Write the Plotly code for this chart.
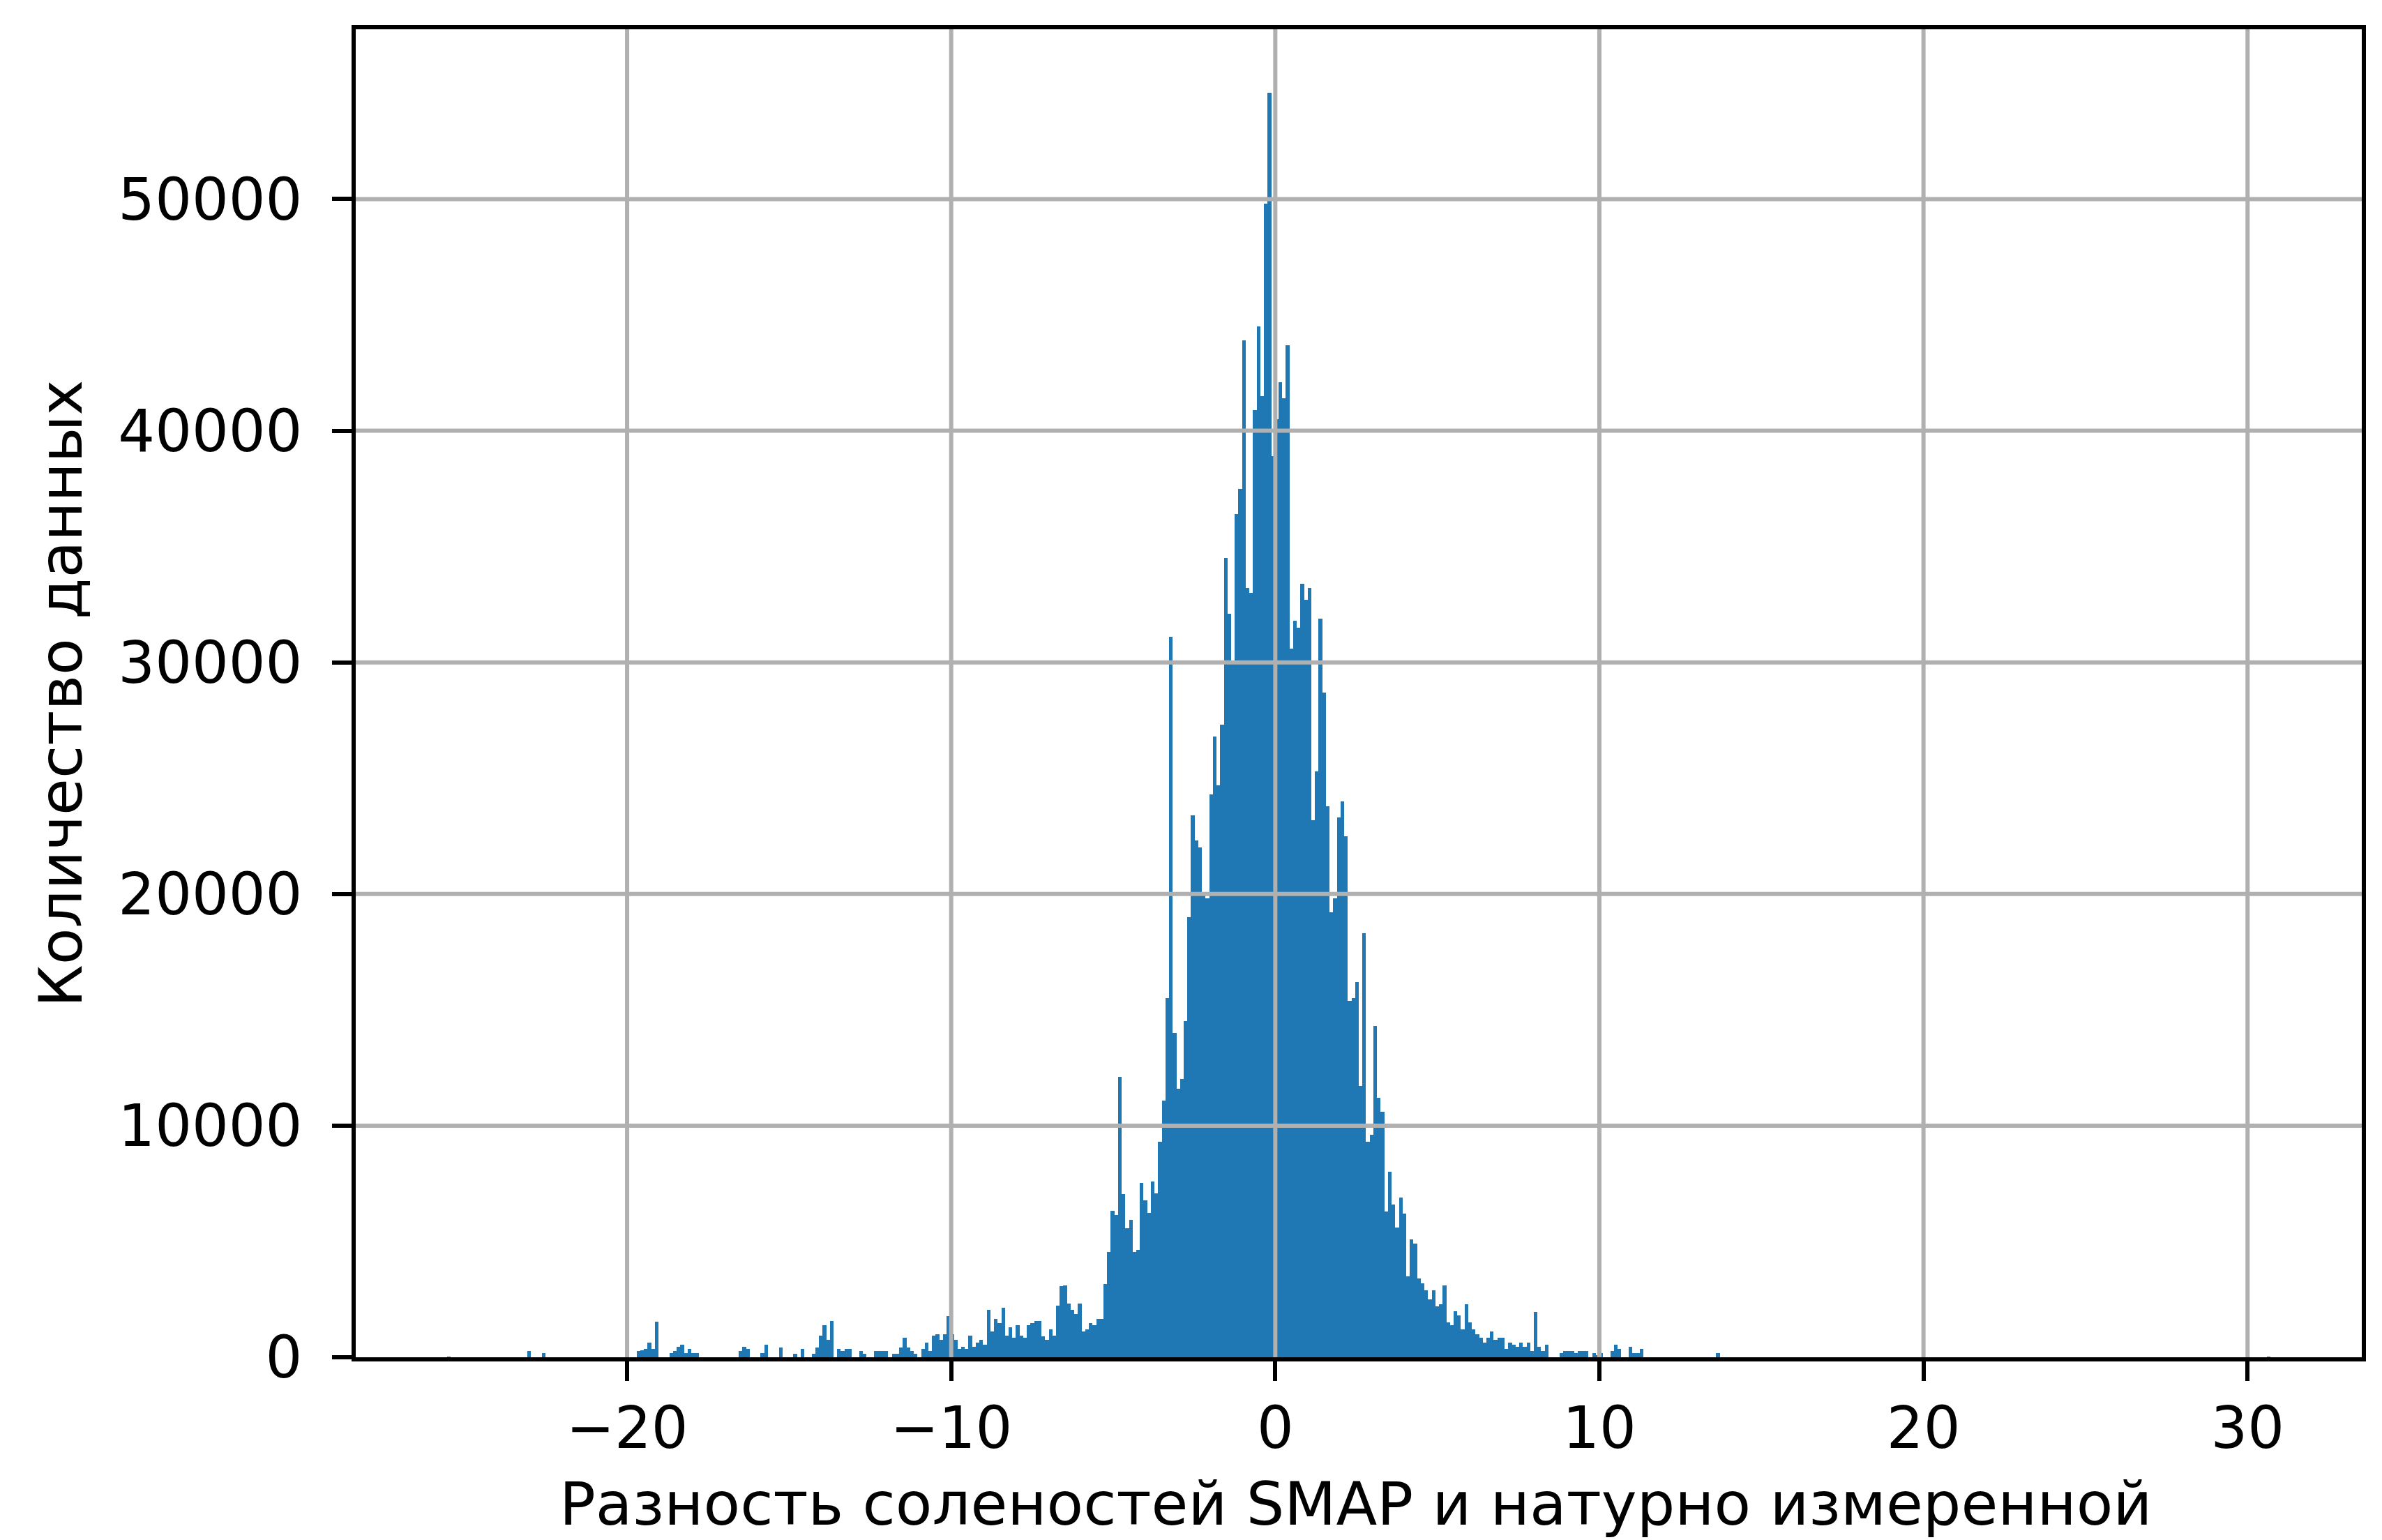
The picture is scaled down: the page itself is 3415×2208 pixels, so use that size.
import plotly.graph_objects as go

# ---------------- data ----------------
bin_start = -25.56          # left edge of first histogram bin
bin_width = 0.11254         # histogram bin width (500 bins)

counts = (
    [1] + [0] * 21                                   # bins 0-21
    + [260, 0, 0, 0, 170]                            # 22-26
    + [0] * 25                                       # 27-51
    + [260, 300, 350, 620, 350, 1550]                # 52-57
    + [0] * 3                                        # 58-60
    + [170, 260, 440, 530, 170, 350, 170, 170]       # 61-68
    + [0] * 11                                       # 69-79
    + [260, 440, 350]                                # 80-82
    + [0] * 3                                        # 83-85
    + [170, 530]                                     # 86-87
    + [0] * 3                                        # 88-90
    + [430] + [0] * 3 + [160] + [0] + [350] + [0, 0] # 91-99
    + [160, 430, 920, 1380, 740, 1560]               # 100-105
    + [0] + [350, 260, 350, 350] + [0, 0]            # 106-112
    + [260, 160] + [0, 0] + [260, 260, 260, 260]     # 113-120
    + [0] + [160, 160, 430, 830, 430, 260, 160] + [0]  # 121-129
    + [350, 620, 260, 920, 1000, 740, 1000, 1770, 1000, 740,          # 130-139
       350, 440, 350, 920, 440, 620, 740, 530, 2040, 1110,           # 140-149
       1650, 1470, 2130, 920, 1280, 830, 1380, 920, 830, 1380,       # 150-159
       1470, 1560, 1560, 910, 750, 1190, 920, 2220, 3060, 3100,      # 160-169
       2310, 2040, 1870, 2310, 1110, 1190, 1470, 1390, 1660, 1660,   # 170-179
       3150, 4540, 6310, 6140, 12100, 7060, 5570, 5940, 4540, 4630,  # 180-189
       7520, 6760, 6220, 7600, 7070, 9300, 11070, 15500, 31100, 14000,      # 190-199
       11600, 12000, 14500, 19000, 23400, 22300, 22000, 20000, 19800, 24300, # 200-209
       26800, 24700, 27300, 34500, 32100, 30000, 36400, 37500, 43900, 33200, # 210-219
       33000, 40900, 44500, 41500, 49800, 54600, 38900, 40500, 42100, 41400, # 220-229
       43700, 30600, 31800, 31500, 33400, 32700, 33200, 23200, 25300, 31900, # 230-239
       28700, 23800, 19200, 19800, 23300, 24000, 22500, 15400, 15500, 16200, # 240-249
       11700, 18300, 9300, 9600, 14300, 11200, 10600, 6300, 8000, 6600,      # 250-259
       5600, 6900, 6200, 3500, 5100, 4900, 3400, 3200, 2900, 2500,           # 260-269
       2900, 2200, 2300, 3100, 1500, 1400, 2000, 1800, 1200, 2300,           # 270-279
       1500, 1200, 1000, 830, 620, 830, 1100, 740, 830, 830,                 # 280-289
       350, 620, 530, 440, 620, 440, 620, 260, 1950, 440,                    # 290-299
       260, 530]                                                             # 300-301
    + [0] * 3                                        # 302-304
    + [170, 260, 260, 260, 170, 260, 260, 260]       # 305-312
    + [0] + [170, 100, 170] + [0, 0]                 # 313-318
    + [260, 530, 350] + [0, 0]                       # 319-323
    + [440, 170, 170, 350]                           # 324-327
    + [0] * 20 + [170]                               # 328-348
    + [0] * 150 + [1]                                # 349-499
)
assert len(counts) == 500, len(counts)

x_ticks = [-20, -10, 0, 10, 20, 30]
x_tick_labels = ["\u221220", "\u221210", "0", "10", "20", "30"]
y_ticks = [0, 10000, 20000, 30000, 40000, 50000]
y_tick_labels = ["0", "10000", "20000", "30000", "40000", "50000"]
x_title = "Разность соленостей SMAP и натурно измеренной"
y_title = "Количество данных"

# ---------------- figure ----------------
n = len(counts)
centers = [bin_start + (i + 0.5) * bin_width for i in range(n)]
data_min = bin_start
data_max = bin_start + n * bin_width
span = data_max - data_min
x_range = [data_min - 0.05 * span, data_max + 0.05 * span]
y_range = [0, 1.05 * max(counts)]

FONT = "DejaVu Sans"
TICK_FS = 83
TITLE_FS = 86
GRID = "#b0b0b0"

fig = go.Figure(go.Bar(
    x=centers, y=counts, width=bin_width,
    marker=dict(color="#1f77b4", line=dict(width=0)),
    hoverinfo="x+y",
))

shapes = []
for v in x_ticks:
    shapes.append(dict(type="line", xref="x", yref="paper", x0=v, x1=v, y0=0, y1=1,
                       line=dict(color=GRID, width=6), layer="above"))
for v in y_ticks:
    if v <= y_range[0]:
        continue
    shapes.append(dict(type="line", xref="paper", yref="y", x0=0, x1=1, y0=v, y1=v,
                       line=dict(color=GRID, width=6), layer="above"))

fig.update_layout(
    width=3415, height=2208,
    margin=dict(l=502, r=37, t=34, b=270, pad=0),
    plot_bgcolor="white", paper_bgcolor="white",
    bargap=0, showlegend=False,
    font=dict(family=FONT, size=TICK_FS, color="black"),
    shapes=shapes,
    xaxis=dict(
        range=x_range, tickmode="array", tickvals=x_ticks, ticktext=x_tick_labels,
        showgrid=False, zeroline=False,
        showline=True, linecolor="black", linewidth=6, mirror=True,
        ticks="outside", ticklen=28, tickwidth=6, tickcolor="black",
        tickfont=dict(family=FONT, size=TICK_FS, color="black"),
        ticklabelstandoff=-4,
        layer="above traces",
    ),
    yaxis=dict(
        range=y_range, tickmode="array", tickvals=y_ticks, ticktext=y_tick_labels,
        showgrid=False, zeroline=False,
        showline=True, linecolor="black", linewidth=6, mirror=True,
        ticks="outside", ticklen=28, tickwidth=6, tickcolor="black",
        tickfont=dict(family=FONT, size=TICK_FS, color="black"),
        ticklabelstandoff=26,
        layer="above traces",
    ),
    annotations=[
        dict(text=x_title, xref="paper", yref="paper", x=0.4985, y=-0.1376,
             xanchor="center", yanchor="bottom", showarrow=False,
             font=dict(family=FONT, size=TITLE_FS, color="black")),
        dict(text=y_title, xref="paper", yref="paper", x=-0.147, y=0.500,
             xanchor="center", yanchor="middle", textangle=-90, showarrow=False,
             font=dict(family=FONT, size=TITLE_FS, color="black")),
    ],
)

fig.write_html("out.html")
